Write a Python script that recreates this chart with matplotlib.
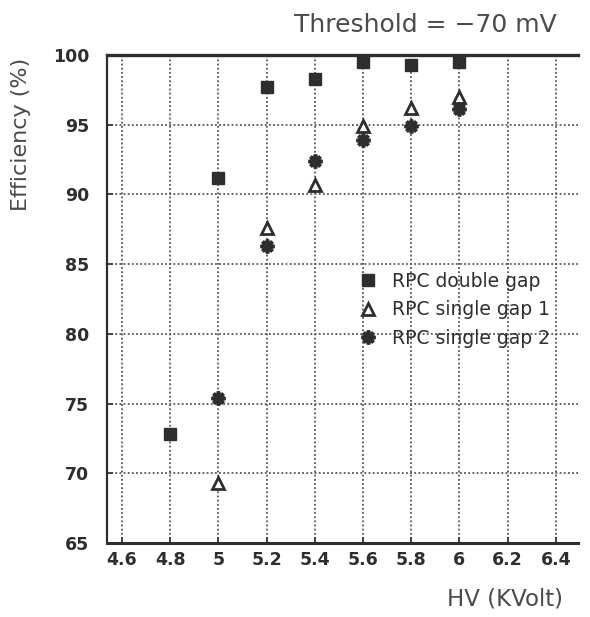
import matplotlib
matplotlib.use("Agg")
import matplotlib.pyplot as plt

# High voltage settings (kV)
hv_double = [4.8, 5.0, 5.2, 5.4, 5.6, 5.8, 6.0]
hv_single1 = [5.0, 5.2, 5.4, 5.6, 5.8, 6.0]
hv_single2 = [5.0, 5.2, 5.4, 5.6, 5.8, 6.0]

# Detection efficiency (%)
eff_double = [72.8, 91.2, 97.7, 98.3, 99.5, 99.3, 99.5]
eff_single1 = [69.3, 87.6, 90.7, 94.9, 96.2, 97.0]
eff_single2 = [75.4, 86.3, 92.4, 93.9, 94.9, 96.1]

series_labels = ["RPC double gap", "RPC single gap 1", "RPC single gap 2"]

x_ticks = [4.6, 4.8, 5.0, 5.2, 5.4, 5.6, 5.8, 6.0, 6.2, 6.4]
x_ticklabels = ["4.6", "4.8", "5", "5.2", "5.4", "5.6", "5.8", "6", "6.2", "6.4"]
y_ticks = [65, 70, 75, 80, 85, 90, 95, 100]

title_text = "Threshold = \u221270 mV"
xlabel_text = "HV (KVolt)"
ylabel_text = "Efficiency (%)"

ink = "#2e2e2e"
label_ink = "#4a4a4a"
label_fam = ["DejaVu Sans"]

W, H = 590, 617
fig = plt.figure(figsize=(W / 100, H / 100), dpi=100)
fig.patch.set_facecolor("white")

left, right, top, bottom = 107, 578, 55, 543
ax = fig.add_axes([left / W, 1 - bottom / H, (right - left) / W, (bottom - top) / H])

ax.set_xlim(4.538, 6.492)
ax.set_ylim(65, 100)

ax.set_xticks(x_ticks)
ax.set_xticklabels(x_ticklabels)
ax.set_yticks(y_ticks)

ax.grid(True, which="major", color="#555555", linestyle=(0, (1, 1.3)), linewidth=1.3)
ax.set_axisbelow(True)

ax.spines["right"].set_visible(False)
ax.spines["top"].set_linewidth(2.4)
ax.spines["bottom"].set_linewidth(2.2)
ax.spines["left"].set_linewidth(1.6)
for s in ax.spines.values():
    s.set_color(ink)

ax.tick_params(axis="both", direction="in", length=4, width=1.2, color=ink,
               labelcolor=ink, labelsize=12.5)
ax.tick_params(axis="x", pad=6)
ax.tick_params(axis="y", pad=13)
for lab in ax.get_xticklabels() + ax.get_yticklabels():
    lab.set_fontweight("semibold")

ms = 8
h1, = ax.plot(hv_double, eff_double, linestyle="none", marker="s", ms=ms,
              color=ink, mec=ink, label=series_labels[0])
h2, = ax.plot(hv_single1, eff_single1, linestyle="none", marker="^", ms=ms + 1,
              mfc="white", mec=ink, mew=2.0, label=series_labels[1])
h3, = ax.plot(hv_single2, eff_single2, linestyle="none", marker=(8, 2, 0), ms=ms + 2,
              color=ink, mec=ink, mew=2.6, label=series_labels[2])

leg = ax.legend(handles=[h1, h2, h3], loc="upper left",
                bbox_to_anchor=((359 - left) / (right - left), (543 - 272) / (bottom - top)),
                frameon=False, fontsize=13.5, handlelength=1.0, handletextpad=0.75,
                labelspacing=0.5, borderpad=0, borderaxespad=0)
for t in leg.get_texts():
    t.set_color(ink)

fig.text(557 / W, 1 - 25 / H, title_text, ha="right", va="center",
         fontsize=18, color=label_ink, family=label_fam)
fig.text(563 / W, 1 - 599 / H, xlabel_text, ha="right", va="center",
         fontsize=16.5, color=label_ink, family=label_fam)
fig.text(21 / W, 1 - 58 / H, ylabel_text, ha="center", va="top", rotation=90,
         fontsize=16, color=label_ink, family=label_fam)

fig.savefig("out.png", dpi=100, facecolor="white")
